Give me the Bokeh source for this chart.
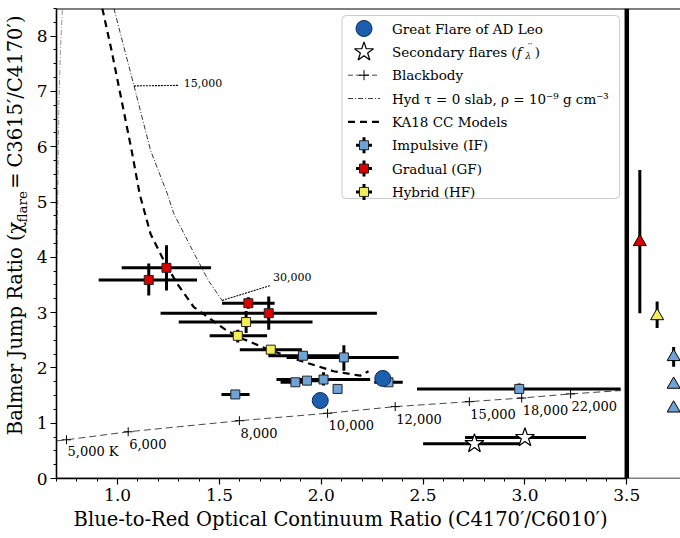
import numpy as np
from bokeh.plotting import figure
from bokeh.layouts import row
from bokeh.models import Range1d, Span, FixedTicker, PrintfTickFormatter, BoxAnnotation
from bokeh.embed import file_html
from bokeh.resources import INLINE
from bokeh.core.properties import value

FONT = "DejaVu Serif"

# ---------------- data ----------------
x_ticks = [1.0, 1.5, 2.0, 2.5, 3.0, 3.5]
y_ticks = [0, 1, 2, 3, 4, 5, 6, 7, 8]
x_label = "Blue-to-Red Optical Continuum Ratio (C4170′/C6010′)"
y_label_main = "Balmer Jump Ratio (χ"
y_label_sub = "flare"
y_label_eq = "="
y_label_end = "C3615′/C4170′)"

# Great Flare of AD Leo
adleo_x = [1.995, 2.302]
adleo_y = [1.41, 1.81]

# Secondary flares
sec_x = [2.752, 3.000]
sec_y = [0.63, 0.74]
sec_xlo = [2.50, 2.706]
sec_xhi = [2.975, 3.30]

# Impulsive flares
if_x = [1.910, 2.111, 1.873, 1.930, 2.011, 2.080, 2.330, 1.578, 2.972]
if_y = [2.22, 2.19, 1.74, 1.77, 1.79, 1.62, 1.74, 1.52, 1.62]
if_xlo = [1.74, 1.83, 1.80, 1.86, 1.78, 2.080, 2.26, 1.51, 2.47]
if_xhi = [2.12, 2.38, 1.95, 2.00, 2.24, 2.080, 2.40, 1.648, 3.47]
if_ylo = [2.16, 1.95, 1.70, 1.73, 1.68, 1.62, 1.70, 1.48, 1.55]
if_yhi = [2.30, 2.41, 1.78, 1.81, 1.92, 1.62, 1.78, 1.56, 1.72]

# Gradual flares
gf_x = [1.153, 1.240, 1.642, 1.742]
gf_y = [3.59, 3.81, 3.17, 2.99]
gf_xlo = [0.907, 1.02, 1.513, 1.211]
gf_xhi = [1.39, 1.459, 1.771, 2.273]
gf_ylo = [3.31, 3.40, 3.07, 2.69]
gf_yhi = [3.89, 4.22, 3.28, 3.29]

# Hybrid flares
hf_x = [1.631, 1.590, 1.752]
hf_y = [2.83, 2.58, 2.33]
hf_xlo = [1.30, 1.452, 1.60]
hf_xhi = [1.957, 1.734, 1.905]
hf_ylo = [2.63, 2.46, 2.28]
hf_yhi = [3.03, 2.69, 2.40]

# Right-hand panel (triangles)
tgf_x = [3.564]; tgf_y = [4.28]; tgf_ylo = [2.99]; tgf_yhi = [5.58]
thf_x = [3.649]; thf_y = [2.94]; thf_ylo = [2.72]; thf_yhi = [3.20]
tif_x = [3.730, 3.730, 3.730]; tif_y = [2.20, 1.70, 1.27]
tif_ylo = [2.02, 1.70, 1.27]; tif_yhi = [2.38, 1.70, 1.27]

# Blackbody curve and temperature marks
bb_curve_x = [0.700, 0.749, 1.052, 1.598, 2.031, 2.363, 2.727, 2.984, 3.224, 3.470]
bb_curve_y = [0.68, 0.70, 0.845, 1.045, 1.18, 1.30, 1.39, 1.455, 1.53, 1.59]
bb_x = [0.749, 1.052, 1.598, 2.031, 2.363, 2.727, 2.984, 3.224]
bb_y = [0.70, 0.845, 1.045, 1.18, 1.30, 1.39, 1.455, 1.53]
bb_labels = ["5,000 K", "6,000", "8,000", "10,000", "12,000", "15,000", "18,000", "22,000"]

# Hyd tau=0 slab curve
hyd_x = [0.982, 1.029, 1.080, 1.162, 1.244, 1.276, 1.373, 1.446, 1.513]
hyd_y = [8.50, 7.83, 7.11, 5.93, 5.15, 4.79, 4.09, 3.58, 3.22]
hyd2_x = [0.700, 0.704, 0.712, 0.720, 0.729]
hyd2_y = [3.50, 4.43, 6.84, 7.80, 8.50]
hyd_lab = ["15,000", "30,000"]
hyd_lab_x0 = [1.080, 1.513]
hyd_lab_y0 = [7.10, 3.22]
hyd_lab_x1 = [1.30, 1.75]
hyd_lab_y1 = [7.11, 3.49]
hyd_txt_x = [1.325, 1.763]
hyd_txt_y = [7.15, 3.64]

# KA18 CC models
ka_x = [0.925, 0.971, 1.020, 1.069, 1.108, 1.162, 1.227, 1.293, 1.374, 1.538, 1.619,
        1.734, 1.897, 2.060, 2.191, 2.232]
ka_y = [8.50, 7.73, 6.83, 5.93, 5.15, 4.42, 3.94, 3.52, 3.10, 2.67, 2.52,
        2.34, 2.13, 1.94, 1.86, 1.94]

legend_labels = ["Great Flare of AD Leo", "Secondary flares (", "Blackbody",
                 "Hyd τ = 0 slab, ρ = 10⁻⁹ g cm⁻³", "KA18 CC Models",
                 "Impulsive (IF)", "Gradual (GF)", "Hybrid (HF)"]

C_ADLEO = "#1c5fae"
C_IF = "#6fa3d8"
C_GF = "#dc0000"
C_HF = "#f5ec5a"

# ---------------- layout ----------------
W, H = 680, 538
LW = 33                      # width of the strip holding the y-axis title
FL, FR, FT, FB = 55, 680, 8, 478
X0, X1 = 0.7, 0.7 + (FR - FL) / 204.0
Y0, Y1 = 0.0, 8.5


def dx(px):
    return X0 + (px - FL) * (X1 - X0) / (FR - FL)


def dy(py):
    return Y1 - (py - FT) * (Y1 - Y0) / (FB - FT)


p = figure(width=W - LW, height=H, x_range=Range1d(X0, X1), y_range=Range1d(Y0, Y1),
           output_backend="svg", toolbar_location=None,
           min_border_left=FL - LW, min_border_right=0, min_border_top=FT,
           min_border_bottom=H - FB)
p.outline_line_color = None
p.grid.visible = False
p.background_fill_color = "white"
p.border_fill_color = "white"

for ax in (p.xaxis[0], p.yaxis[0]):
    ax.axis_line_width = 1.6
    ax.axis_line_color = "black"
    ax.major_tick_line_width = 1.2
    ax.minor_tick_line_width = 1.0
    ax.major_tick_in = 0
    ax.major_tick_out = 6
    ax.minor_tick_in = 0
    ax.minor_tick_out = 3
    ax.major_label_text_font = FONT
    ax.major_label_text_font_size = "17px"
    ax.major_label_text_color = "black"
    ax.major_label_standoff = 4
p.yaxis.major_label_standoff = 3

p.xaxis.ticker = FixedTicker(ticks=x_ticks, minor_ticks=[round(0.7 + 0.1 * i, 2) for i in range(29)])
p.xaxis.formatter = PrintfTickFormatter(format="%.1f")
p.xaxis.bounds = (X0, 3.5)
p.yaxis.ticker = FixedTicker(ticks=y_ticks, minor_ticks=[0.25 * i for i in range(35)])
p.yaxis.formatter = PrintfTickFormatter(format="%d")
# trailing no-break spaces centre the title under the main panel (0.7 - 3.5)
p.xaxis.axis_label = x_label + "\u00a0" * 9
p.xaxis.axis_label_text_font = FONT
p.xaxis.axis_label_text_font_size = "19.5px"
p.xaxis.axis_label_text_font_style = "normal"
p.xaxis.axis_label_text_color = "black"
p.xaxis.axis_label_standoff = 4

# spines and the separating thick line
p.add_layout(Span(location=Y1, dimension="width", line_color="black", line_width=2))
p.add_layout(Span(location=Y0, dimension="width", line_color="black", line_width=1.6))
p.add_layout(Span(location=3.5, dimension="height", line_color="black", line_width=4.5))

# ---------------- curves ----------------
p.line(bb_curve_x, bb_curve_y, line_color="#333333", line_width=0.9, line_dash="7 4")
p.scatter(bb_x, bb_y, marker="cross", size=9, line_color="black", line_width=1)
p.text(x=bb_x, y=bb_y, text=bb_labels, x_offset=1, y_offset=12,
       text_font=value(FONT), text_font_size=value("13px"), text_baseline="middle",
       text_align="left", text_color="black")

p.line(hyd_x, hyd_y, line_color="black", line_width=0.8, line_dash="5 2 1 2")
p.line(hyd2_x, hyd2_y, line_color="#777777", line_width=0.8, line_dash="5 2 1 2")
p.segment(x0=hyd_lab_x0, y0=hyd_lab_y0, x1=hyd_lab_x1, y1=hyd_lab_y1,
          line_color="black", line_width=1.1, line_dash="2 1")
p.text(x=hyd_txt_x, y=hyd_txt_y, text=hyd_lab, text_font=value(FONT),
       text_font_size=value("11px"), text_baseline="middle", text_align="left",
       text_color="black")

p.line(ka_x, ka_y, line_color="black", line_width=2.2, line_dash="7 5")


# ---------------- data points ----------------
def errbars(x, y, xlo=None, xhi=None, ylo=None, yhi=None):
    if xlo is not None:
        p.segment(x0=xlo, y0=y, x1=xhi, y1=y, line_color="black", line_width=3)
    if ylo is not None:
        p.segment(x0=x, y0=ylo, x1=x, y1=yhi, line_color="black", line_width=3)


errbars(gf_x, gf_y, gf_xlo, gf_xhi, gf_ylo, gf_yhi)
p.scatter(gf_x, gf_y, marker="square", size=9, fill_color=C_GF, line_color="#222222", line_width=1)
errbars(hf_x, hf_y, hf_xlo, hf_xhi, hf_ylo, hf_yhi)
p.scatter(hf_x, hf_y, marker="square", size=9, fill_color=C_HF, line_color="#222222", line_width=1)
errbars(if_x, if_y, if_xlo, if_xhi, if_ylo, if_yhi)
p.scatter(if_x, if_y, marker="square", size=9, fill_color=C_IF, line_color="#222222", line_width=1)

p.scatter(adleo_x, adleo_y, marker="circle", size=16, fill_color=C_ADLEO,
          line_color="#0d2b52", line_width=1)

errbars(sec_x, sec_y, sec_xlo, sec_xhi)
p.scatter(sec_x, sec_y, marker="star", size=20, fill_color="white", line_color="black", line_width=1.2)

errbars(tgf_x, tgf_y, ylo=tgf_ylo, yhi=tgf_yhi)
p.scatter(tgf_x, tgf_y, marker="triangle", size=13, fill_color=C_GF, line_color="black", line_width=1)
errbars(thf_x, thf_y, ylo=thf_ylo, yhi=thf_yhi)
p.scatter(thf_x, thf_y, marker="triangle", size=13, fill_color=C_HF, line_color="black", line_width=1)
errbars(tif_x, tif_y, ylo=tif_ylo, yhi=tif_yhi)
p.scatter(tif_x, tif_y, marker="triangle", size=13, fill_color=C_IF, line_color="black", line_width=1)

# ---------------- legend (drawn by hand) ----------------
box = BoxAnnotation(left=dx(341), right=dx(619), top=dy(15), bottom=dy(198),
                    fill_color="white", fill_alpha=0.85, line_color="#cccccc",
                    line_alpha=1.0, line_width=1, border_radius=4, level="underlay")
p.add_layout(box)

rows = [dy(28 + 23.35 * i) for i in range(8)]
gx = dx(363)
lx = [dx(347), dx(379)]
half = dy(0) - dy(8)

p.scatter([gx], [rows[0]], marker="circle", size=16, fill_color=C_ADLEO, line_color="#0d2b52", line_width=1)
p.scatter([gx], [rows[1]], marker="star", size=20, fill_color="white", line_color="black", line_width=1.2)
p.line(lx, [rows[2]] * 2, line_color="#333333", line_width=0.9, line_dash="5 3")
p.scatter([gx], [rows[2]], marker="cross", size=10, line_color="black", line_width=1)
p.line(lx, [rows[3]] * 2, line_color="black", line_width=0.8, line_dash="5 2 1 2")
p.line(lx, [rows[4]] * 2, line_color="black", line_width=2.2, line_dash="7 5")
for r, c in zip(rows[5:], [C_IF, C_GF, C_HF]):
    p.segment(x0=[dx(355)], y0=[r], x1=[dx(371)], y1=[r], line_color="black", line_width=3)
    p.segment(x0=[gx], y0=[r - half], x1=[gx], y1=[r + half], line_color="black", line_width=3)
    p.scatter([gx], [r], marker="square", size=9, fill_color=c, line_color="#222222", line_width=1)

p.text(x=[dx(391)] * 8, y=rows, text=legend_labels, text_font=value(FONT),
       text_font_size=value("13.5px"), text_baseline="middle", text_align="left",
       text_color="black")
# math part of "Secondary flares (f''_lambda)"
p.text(x=[dx(516)], y=[rows[1]], text=["f"], text_font=value(FONT), text_font_style="italic",
       text_font_size=value("13.5px"), text_baseline="middle", text_align="left", text_color="black")
p.text(x=[dx(527)], y=[rows[1]], text=["′′"], y_offset=-5, text_font=value(FONT),
       text_font_size=value("10px"), text_baseline="middle", text_align="left", text_color="black")
p.text(x=[dx(524.5)], y=[rows[1]], text=["λ"], y_offset=4, text_font=value(FONT), text_font_style="italic",
       text_font_size=value("9.5px"), text_baseline="middle", text_align="left", text_color="black")
p.text(x=[dx(534)], y=[rows[1]], text=[")"], text_font=value(FONT),
       text_font_size=value("13.5px"), text_baseline="middle", text_align="left", text_color="black")

# ---------------- y-axis title strip (with subscript) ----------------
yl = figure(width=LW, height=H, x_range=Range1d(0, LW), y_range=Range1d(H, 0),
            output_backend="svg", toolbar_location=None, x_axis_type=None, y_axis_type=None,
            min_border_left=0, min_border_right=0, min_border_top=0, min_border_bottom=0)
yl.outline_line_color = None
yl.grid.visible = False
S = 244   # canvas y where the subscript starts
XC = 15.3  # centre line of the main title text
yl.text(x=[XC], y=[S], text=[y_label_main], angle=np.pi / 2, text_align="right",
        text_baseline="middle", text_font=value(FONT), text_font_size=value("19.5px"),
        text_color="black")
yl.text(x=[21.4], y=[S + 1], text=[y_label_sub], angle=np.pi / 2, text_align="left",
        text_baseline="middle", text_font=value(FONT), text_font_size=value("13.5px"),
        text_color="black")
yl.text(x=[XC], y=[197], text=[y_label_eq], angle=np.pi / 2, text_align="center",
        text_baseline="middle", text_font=value(FONT), text_font_size=value("19.5px"),
        text_color="black")
yl.text(x=[XC], y=[FT], text=[y_label_end], angle=np.pi / 2, text_align="right",
        text_baseline="middle", text_font=value(FONT), text_font_size=value("19.5px"),
        text_color="black")

layout = row(yl, p, spacing=0)
open("out.html", "w").write(file_html(layout, INLINE))
